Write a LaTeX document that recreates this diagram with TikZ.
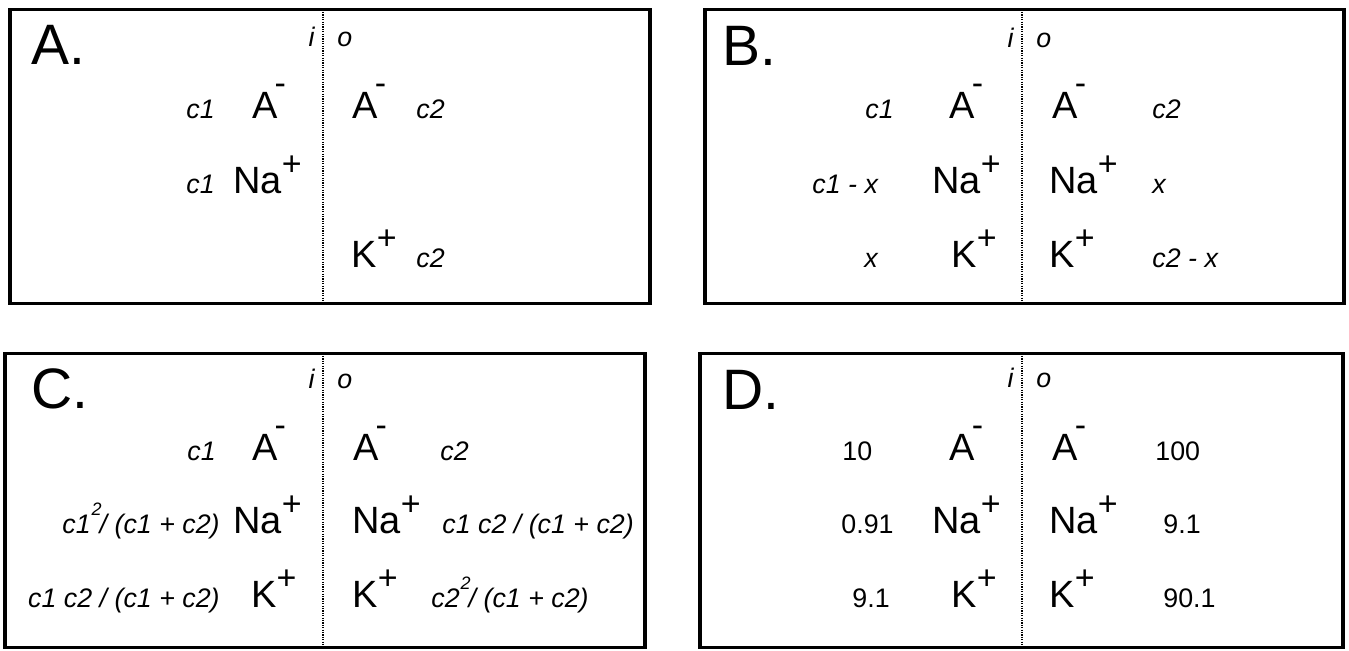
\documentclass[tikz,border=0pt]{standalone}
\usepackage{fontspec}
\setmainfont{Liberation Sans}
\newcommand{\sgnsize}{\fontsize{17}{17}\selectfont}
\newcommand{\anion}[1]{#1\kern-1.5pt\raisebox{12pt}{\sgnsize -}}
\newcommand{\cation}[1]{#1\raisebox{9pt}{\sgnsize +}}
\newcommand{\sq}{\kern0.5pt\raisebox{9pt}{\fontsize{9}{9}\selectfont 2}\kern-1pt}
\tikzset{
  panel/.style={draw=black,line width=1.7pt},
  membrane/.style={draw=black,line width=0.7pt,dash pattern=on 0.6pt off 0.6pt},
  tag/.style={anchor=base west,inner sep=0pt,font=\fontsize{28.5}{30}\selectfont},
  side/.style={anchor=base west,inner sep=0pt,font=\fontsize{13.4}{14}\selectfont\itshape},
  ion/.style={anchor=base west,inner sep=0pt,font=\fontsize{19}{20}\selectfont},
  conc/.style={anchor=base west,inner sep=0pt,font=\fontsize{13.4}{14}\selectfont\itshape},
  num/.style={anchor=base west,inner sep=0pt,font=\fontsize{13.4}{14}\selectfont}
}
\begin{document}
\begin{tikzpicture}[x=0.5pt,y=-0.5pt]
  \useasboundingbox (0,0) rectangle (1349,650);
  % A.
  \draw[panel] (10,9.5) rectangle (650,303.5);
  \draw[membrane] (323,9.5) -- (323,303.5);
  \node[tag] (A-tag) at (31,64) {A.};
  \node[side,anchor=base east] (A-i) at (315,46) {i};
  \node[side] (A-o) at (337,46) {o};
  \node[conc] (A-c1a) at (186,118) {c1};
  \node[ion] (A-inA) at (252,118) {\anion{A}};
  \node[ion] (A-outA) at (352,118) {\anion{A}};
  \node[conc] (A-c2a) at (416,118) {c2};
  \node[conc] (A-c1n) at (186,193) {c1};
  \node[ion] (A-inNa) at (233,193) {\cation{Na}};
  \node[ion] (A-outK) at (351,267) {\cation{K}};
  \node[conc] (A-c2k) at (416,267) {c2};
  % B.
  \draw[panel] (705,9.5) rectangle (1344,303.5);
  \draw[membrane] (1022,9.5) -- (1022,303.5);
  \node[tag] (B-tag) at (722,65) {B.};
  \node[side,anchor=base east] (B-i) at (1014,47) {i};
  \node[side] (B-o) at (1036,47) {o};
  \node[conc] (B-c1a) at (865,118) {c1};
  \node[ion] (B-inA) at (949,118) {\anion{A}};
  \node[ion] (B-outA) at (1052,118) {\anion{A}};
  \node[conc] (B-c2a) at (1152,118) {c2};
  \node[conc] (B-c1n) at (812,193) {c1 - x};
  \node[ion] (B-inNa) at (932,193) {\cation{Na}};
  \node[ion] (B-outNa) at (1049,193) {\cation{Na}};
  \node[conc] (B-xn) at (1152,193) {x};
  \node[conc] (B-xk) at (864,267) {x};
  \node[ion] (B-inK) at (951,267) {\cation{K}};
  \node[ion] (B-outK) at (1049,267) {\cation{K}};
  \node[conc] (B-c2k) at (1152,267) {c2 - x};
  % C.
  \draw[panel] (5,353.5) rectangle (645,647.5);
  \draw[membrane] (323,353.5) -- (323,647.5);
  \node[tag] (C-tag) at (31,408) {C.};
  \node[side,anchor=base east] (C-i) at (315,388) {i};
  \node[side] (C-o) at (337,388) {o};
  \node[conc] (C-c1a) at (187,460) {c1};
  \node[ion] (C-inA) at (252,460) {\anion{A}};
  \node[ion] (C-outA) at (353,460) {\anion{A}};
  \node[conc] (C-c2a) at (440,460) {c2};
  \node[conc,anchor=base east] (C-c1n) at (220,533) {c1\sq/ (c1 + c2)};
  \node[ion] (C-inNa) at (233,533) {\cation{Na}};
  \node[ion] (C-outNa) at (352,533) {\cation{Na}};
  \node[conc] (C-c2n) at (442,533) {c1 c2 / (c1 + c2)};
  \node[conc,anchor=base east] (C-c1k) at (220,607) {c1 c2 / (c1 + c2)};
  \node[ion] (C-inK) at (251,607) {\cation{K}};
  \node[ion] (C-outK) at (352,607) {\cation{K}};
  \node[conc] (C-c2k) at (431,607) {c2\sq/ (c1 + c2)};
  % D.
  \draw[panel] (700,353.5) rectangle (1343,647.5);
  \draw[membrane] (1022,353.5) -- (1022,647.5);
  \node[tag] (D-tag) at (722,409) {D.};
  \node[side,anchor=base east] (D-i) at (1014,387) {i};
  \node[side] (D-o) at (1036,387) {o};
  \node[num] (D-c1a) at (842,460) {10};
  \node[ion] (D-inA) at (949,460) {\anion{A}};
  \node[ion] (D-outA) at (1052,460) {\anion{A}};
  \node[num] (D-c2a) at (1155,460) {100};
  \node[num] (D-c1n) at (841,533) {0.91};
  \node[ion] (D-inNa) at (932,533) {\cation{Na}};
  \node[ion] (D-outNa) at (1049,533) {\cation{Na}};
  \node[num] (D-c2n) at (1163,533) {9.1};
  \node[num] (D-c1k) at (852,607) {9.1};
  \node[ion] (D-inK) at (951,607) {\cation{K}};
  \node[ion] (D-outK) at (1049,607) {\cation{K}};
  \node[num] (D-c2k) at (1163,607) {90.1};
\end{tikzpicture}
\end{document}
